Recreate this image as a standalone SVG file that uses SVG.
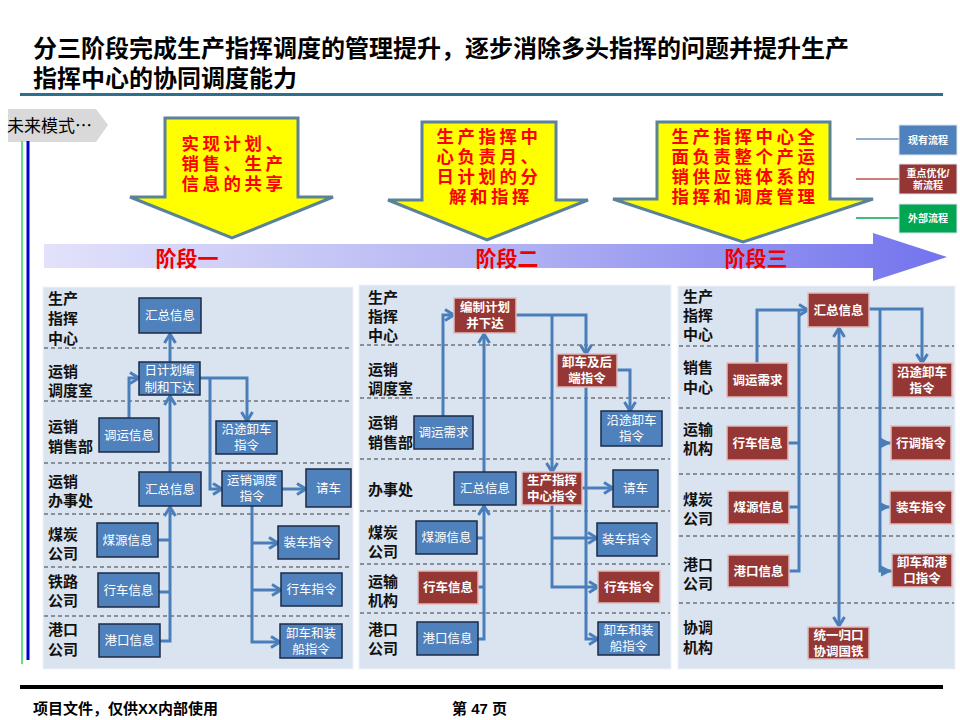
<svg xmlns="http://www.w3.org/2000/svg" width="960" height="720" viewBox="0 0 960 720">
<style>
text{font-family:'Liberation Sans','Noto Sans CJK SC',sans-serif;}
.title{font-size:24px;font-weight:700;fill:#000;}
.foot{font-size:15px;font-weight:700;fill:#000;}
.yt{font-size:17.4px;letter-spacing:3.6px;font-weight:700;fill:#ff0000;text-anchor:middle;}
.st{font-size:21px;font-weight:700;fill:#ee0000;text-anchor:middle;}
.row{font-size:15px;font-weight:700;fill:#111;}
.nb{fill:#4f81bd;stroke:#1b2a44;stroke-width:1.5;}
.nr{fill:#953735;stroke:#e6b9b8;stroke-width:1.5;}
.tb{font-size:12.5px;fill:#fff;text-anchor:middle;}
.tr{font-size:12.5px;fill:#fff;font-weight:700;text-anchor:middle;}
.lg{font-size:10px;fill:#fff;font-weight:700;text-anchor:middle;}
.panel{fill:#dae4f0;stroke:#eef2f8;stroke-width:1;}
.dash{stroke:#3a3a3a;stroke-width:1.2;stroke-dasharray:4,3;fill:none;}
.c{fill:none;stroke:#4a7ebb;stroke-width:3;}
.ca{fill:none;stroke:#4a7ebb;stroke-width:3;marker-end:url(#chev);}
.ct{fill:none;stroke:#4a7ebb;stroke-width:3;marker-end:url(#tri);}
.yarrow{fill:#ffff00;stroke:#5a8299;stroke-width:3;}
</style>
<defs>
<marker id="chev" markerUnits="userSpaceOnUse" markerWidth="14" markerHeight="14" viewBox="0 0 14 14" refX="12" refY="7" orient="auto-start-reverse">
<path d="M3,1.5 L12,7 L3,12.5" fill="none" stroke="#4a7ebb" stroke-width="3"/>
</marker>
<marker id="tri" markerUnits="userSpaceOnUse" markerWidth="14" markerHeight="14" viewBox="0 0 14 14" refX="12" refY="7" orient="auto">
<path d="M1,1.5 L12,7 L1,12.5 Z" fill="#4a7ebb"/>
</marker>
<linearGradient id="bigg" x1="44" y1="0" x2="947" y2="0" gradientUnits="userSpaceOnUse">
<stop offset="0" stop-color="#e2e2fb"/>
<stop offset="0.5" stop-color="#b4b4f3"/>
<stop offset="1" stop-color="#7373ee"/>
</linearGradient>
</defs>

<rect x="0" y="0" width="960" height="720" fill="#fff"/>

<!-- title -->
<g id="title">
<text class="title" x="33" y="57">分三阶段完成生产指挥调度的管理提升，逐步消除多头指挥的问题并提升生产</text>
<text class="title" x="33" y="87">指挥中心的协同调度能力</text>
<rect x="20" y="93" width="923" height="3" fill="#2e6e8e"/>
</g>

<!-- future mode tab -->
<g id="future">
<path d="M8,109 L96,109 L108,125 L96,142 L8,142 Z" fill="#d9d9d9"/>
<text x="7" y="132" font-size="17" fill="#000" style="font-family:'Noto Sans CJK SC',sans-serif">未来模式…</text>
<rect x="21" y="141" width="2" height="523" fill="#66dd88"/>
<rect x="26.5" y="141" width="3" height="519" fill="#0000cc"/>
</g>

<!-- yellow arrows -->
<g id="goal1">
<path class="yarrow" d="M165,118 L298,118 L298,197 L333,197 L232,238 L130,197 L165,197 Z"/>
<text class="yt" x="234" y="150">实现计划、</text>
<text class="yt" x="234" y="170">销售、生产</text>
<text class="yt" x="234" y="190">信息的共享</text>
</g>
<g id="goal2">
<path class="yarrow" d="M422,122 L556,122 L556,200 L588,200 L487,240 L388,200 L422,200 Z"/>
<text class="yt" x="489" y="143">生产指挥中</text>
<text class="yt" x="489" y="163">心负责月、</text>
<text class="yt" x="489" y="183">日计划的分</text>
<text class="yt" x="491" y="203">解和指挥</text>
</g>
<g id="goal3">
<path class="yarrow" d="M657,122 L830,122 L830,199 L873,199 L743,242 L613,199 L657,199 Z"/>
<text class="yt" x="745" y="143">生产指挥中心全</text>
<text class="yt" x="745" y="163">面负责整个产运</text>
<text class="yt" x="745" y="183">销供应链体系的</text>
<text class="yt" x="745" y="203">指挥和调度管理</text>
</g>

<!-- legend -->
<g id="legend">
<line x1="856" y1="139" x2="899" y2="139" stroke="#6f93b8" stroke-width="1.5"/>
<line x1="856" y1="179" x2="899" y2="179" stroke="#c0504d" stroke-width="1.5"/>
<line x1="856" y1="218" x2="899" y2="218" stroke="#00a651" stroke-width="1.5"/>
<rect x="899" y="125" width="58" height="30" fill="#4f81bd" stroke="#dbe5f1" stroke-width="1"/>
<text class="lg" x="928" y="144">现有流程</text>
<rect x="899" y="164" width="58" height="30" fill="#943634" stroke="#dbe5f1" stroke-width="1"/>
<text class="lg" x="928" y="177">重点优化/</text>
<text class="lg" x="928" y="189">新流程</text>
<rect x="899" y="204" width="58" height="29" fill="#00a651" stroke="#dbe5f1" stroke-width="1"/>
<text class="lg" x="928" y="222">外部流程</text>
</g>

<!-- stage arrow -->
<g id="stages">
<path d="M44,244 L873,244 L873,233 L947,257 L873,281 L873,268 L44,268 Z" fill="url(#bigg)"/>
<text class="st" x="187" y="266">阶段一</text>
<text class="st" x="507" y="266">阶段二</text>
<text class="st" x="756" y="266">阶段三</text>
</g>

<!-- panels -->
<g id="panel1">
<rect class="panel" x="43" y="287" width="310" height="382"/>
<line class="dash" x1="44" y1="348" x2="352" y2="348"/>
<line class="dash" x1="44" y1="401" x2="352" y2="401"/>
<line class="dash" x1="44" y1="463" x2="352" y2="463"/>
<line class="dash" x1="44" y1="514" x2="352" y2="514"/>
<line class="dash" x1="44" y1="567" x2="352" y2="567"/>
<line class="dash" x1="44" y1="616" x2="352" y2="616"/>
<text class="row" x="48" y="304">生产</text>
<text class="row" x="48" y="324">指挥</text>
<text class="row" x="48" y="344">中心</text>
<text class="row" x="48" y="377">运销</text>
<text class="row" x="48" y="396">调度室</text>
<text class="row" x="48" y="432">运销</text>
<text class="row" x="48" y="452">销售部</text>
<text class="row" x="48" y="487">运销</text>
<text class="row" x="48" y="506">办事处</text>
<text class="row" x="48" y="540">煤炭</text>
<text class="row" x="48" y="559">公司</text>
<text class="row" x="48" y="587">铁路</text>
<text class="row" x="48" y="606">公司</text>
<text class="row" x="48" y="635">港口</text>
<text class="row" x="48" y="655">公司</text>
</g>
<g id="panel2">
<rect class="panel" x="359" y="285" width="312" height="384"/>
<line class="dash" x1="360" y1="345" x2="670" y2="345"/>
<line class="dash" x1="360" y1="398" x2="670" y2="398"/>
<line class="dash" x1="360" y1="459" x2="670" y2="459"/>
<line class="dash" x1="360" y1="511" x2="670" y2="511"/>
<line class="dash" x1="360" y1="564" x2="670" y2="564"/>
<line class="dash" x1="360" y1="613" x2="670" y2="613"/>
<text class="row" x="368" y="303">生产</text>
<text class="row" x="368" y="322">指挥</text>
<text class="row" x="368" y="341">中心</text>
<text class="row" x="368" y="375">运销</text>
<text class="row" x="368" y="394">调度室</text>
<text class="row" x="368" y="428">运销</text>
<text class="row" x="368" y="448">销售部</text>
<text class="row" x="368" y="495">办事处</text>
<text class="row" x="368" y="538">煤炭</text>
<text class="row" x="368" y="557">公司</text>
<text class="row" x="368" y="587">运输</text>
<text class="row" x="368" y="606">机构</text>
<text class="row" x="368" y="635">港口</text>
<text class="row" x="368" y="654">公司</text>
</g>
<g id="panel3">
<rect class="panel" x="678" y="286" width="277" height="383"/>
<line class="dash" x1="679" y1="346" x2="954" y2="346"/>
<line class="dash" x1="679" y1="408" x2="954" y2="408"/>
<line class="dash" x1="679" y1="474" x2="954" y2="474"/>
<line class="dash" x1="679" y1="536" x2="954" y2="536"/>
<line class="dash" x1="679" y1="603" x2="954" y2="603"/>
<text class="row" x="683" y="302">生产</text>
<text class="row" x="683" y="321">指挥</text>
<text class="row" x="683" y="340">中心</text>
<text class="row" x="683" y="373">销售</text>
<text class="row" x="683" y="393">中心</text>
<text class="row" x="683" y="435">运输</text>
<text class="row" x="683" y="454">机构</text>
<text class="row" x="683" y="505">煤炭</text>
<text class="row" x="683" y="524">公司</text>
<text class="row" x="683" y="570">港口</text>
<text class="row" x="683" y="589">公司</text>
<text class="row" x="683" y="633">协调</text>
<text class="row" x="683" y="653">机构</text>
</g>

<!-- connectors -->
<g id="connectors">
<!-- stage 1 -->
<path class="ca" d="M170,362 L170,334"/>
<path class="ca" d="M129,418 L129,378 L139,378"/>
<path class="ca" d="M170,472 L170,396"/>
<path class="ca" d="M200,378 L247,378 L247,421"/>
<path class="ca" d="M210,378 L210,489 L222,489"/>
<path class="ca" d="M282,489 L306,489"/>
<path class="ca" d="M252,506 L252,642 L280,642"/>
<path class="ca" d="M252,543 L278,543"/>
<path class="ca" d="M252,590 L281,590"/>
<path class="c" d="M158,540 L170,540 M159,592 L170,592"/>
<path class="ca" d="M160,641 L170,641 L170,507"/>
<!-- stage 2 -->
<path class="ca" d="M443,416 L443,315 L454,315"/>
<path class="ca" d="M484,472 L484,334"/>
<path class="ca" d="M516,315 L586,315 L586,354"/>
<path class="ca" d="M552,315 L552,472"/>
<path class="ca" d="M617,370 L630,370 L630,411"/>
<path class="ca" d="M586,387 L586,639 L598,639"/>
<path class="ca" d="M552,505 L552,587 L598,587"/>
<path class="ca" d="M552,538 L597,538"/>
<path class="ca" d="M582,488 L613,488"/>
<path class="c" d="M477,538 L484,538 M478,587 L484,587"/>
<path class="ca" d="M478,639 L484,639 L484,506"/>
<!-- stage 3 -->
<path class="ca" d="M757,363 L757,310 L808,310"/>
<path class="c" d="M788,443 L799,443 M789,507 L799,507 M789,571 L799,571 L799,310"/>
<path class="ca" d="M839,328 L839,626" marker-start="url(#chev)"/>
<path class="ca" d="M869,309 L922,309 L922,363"/>
<path class="ct" d="M880,309 L880,571 L892,571"/>
<path class="ct" d="M880,443 L891,443"/>
<path class="ct" d="M880,507 L890,507"/>
</g>

<!-- stage 1 nodes -->
<g id="s1-huizong"><rect class="nb" x="139" y="298" width="62" height="35"/><text class="tb" x="170" y="320">汇总信息</text></g>
<g id="s1-rijihua"><rect class="nb" x="139" y="362" width="61" height="33"/><text class="tb" x="169.5" y="375">日计划编</text><text class="tb" x="169.5" y="391.5">制和下达</text></g>
<g id="s1-diaoyun"><rect class="nb" x="99" y="418" width="60" height="34"/><text class="tb" x="129" y="439.5">调运信息</text></g>
<g id="s1-yantu"><rect class="nb" x="216" y="421" width="61" height="33"/><text class="tb" x="246.5" y="434">沿途卸车</text><text class="tb" x="246.5" y="450">指令</text></g>
<g id="s1-huizong2"><rect class="nb" x="139" y="472" width="62" height="34"/><text class="tb" x="170" y="493.5">汇总信息</text></g>
<g id="s1-diaodu"><rect class="nb" x="222" y="471" width="60" height="35"/><text class="tb" x="252" y="485">运销调度</text><text class="tb" x="252" y="501">指令</text></g>
<g id="s1-qingche"><rect class="nb" x="306" y="469" width="45" height="38"/><text class="tb" x="328.5" y="492.5">请车</text></g>
<g id="s1-meiyuan"><rect class="nb" x="97" y="523" width="61" height="34"/><text class="tb" x="127.5" y="544.5">煤源信息</text></g>
<g id="s1-zhuangche"><rect class="nb" x="278" y="526" width="61" height="33"/><text class="tb" x="308.5" y="547">装车指令</text></g>
<g id="s1-xingche"><rect class="nb" x="98" y="573" width="61" height="34"/><text class="tb" x="128.5" y="594.5">行车信息</text></g>
<g id="s1-xingchezl"><rect class="nb" x="281" y="573" width="61" height="33"/><text class="tb" x="311.5" y="594">行车指令</text></g>
<g id="s1-gangkou"><rect class="nb" x="99" y="624" width="61" height="33"/><text class="tb" x="129.5" y="645">港口信息</text></g>
<g id="s1-xiechezhuang"><rect class="nb" x="280" y="624" width="62" height="34"/><text class="tb" x="311" y="637.5">卸车和装</text><text class="tb" x="311" y="653.5">船指令</text></g>

<!-- stage 2 nodes -->
<g id="s2-bianzhi"><rect class="nr" x="454" y="298" width="62" height="35"/><text class="tr" x="485" y="312">编制计划</text><text class="tr" x="485" y="328">并下达</text></g>
<g id="s2-xieche"><rect class="nr" x="557" y="354" width="60" height="33"/><text class="tr" x="587" y="367">卸车及后</text><text class="tr" x="587" y="383">端指令</text></g>
<g id="s2-yantu"><rect class="nb" x="601" y="411" width="61" height="35"/><text class="tb" x="631.5" y="425">沿途卸车</text><text class="tb" x="631.5" y="441">指令</text></g>
<g id="s2-diaoyun"><rect class="nb" x="414" y="416" width="59" height="33"/><text class="tb" x="443.5" y="437">调运需求</text></g>
<g id="s2-huizong"><rect class="nb" x="454" y="472" width="62" height="33"/><text class="tb" x="485" y="493">汇总信息</text></g>
<g id="s2-zhihui"><rect class="nr" x="522" y="472" width="60" height="33"/><text class="tr" x="552" y="485">生产指挥</text><text class="tr" x="552" y="501">中心指令</text></g>
<g id="s2-qingche"><rect class="nb" x="613" y="470" width="45" height="37"/><text class="tb" x="635.5" y="493">请车</text></g>
<g id="s2-meiyuan"><rect class="nb" x="416" y="521" width="61" height="33"/><text class="tb" x="446.5" y="542">煤源信息</text></g>
<g id="s2-zhuangche"><rect class="nb" x="597" y="523" width="60" height="33"/><text class="tb" x="627" y="544">装车指令</text></g>
<g id="s2-xingche"><rect class="nr" x="418" y="571" width="60" height="33"/><text class="tr" x="448" y="592">行车信息</text></g>
<g id="s2-xingchezl"><rect class="nr" x="598" y="571" width="62" height="32"/><text class="tr" x="629" y="591.5">行车指令</text></g>
<g id="s2-gangkou"><rect class="nb" x="417" y="622" width="61" height="33"/><text class="tb" x="447.5" y="643">港口信息</text></g>
<g id="s2-xiechezhuang"><rect class="nb" x="598" y="622" width="61" height="33"/><text class="tb" x="628.5" y="635">卸车和装</text><text class="tb" x="628.5" y="651">船指令</text></g>

<!-- stage 3 nodes -->
<g id="s3-huizong"><rect class="nr" x="808" y="293" width="61" height="34"/><text class="tr" x="838.5" y="314.5">汇总信息</text></g>
<g id="s3-diaoyun"><rect class="nr" x="727" y="363" width="61" height="34"/><text class="tr" x="757.5" y="384.5">调运需求</text></g>
<g id="s3-yantu"><rect class="nr" x="892" y="363" width="60" height="34"/><text class="tr" x="922" y="376.5">沿途卸车</text><text class="tr" x="922" y="392.5">指令</text></g>
<g id="s3-xingche"><rect class="nr" x="727" y="426" width="61" height="34"/><text class="tr" x="757.5" y="447.5">行车信息</text></g>
<g id="s3-xingdiao"><rect class="nr" x="891" y="426" width="60" height="34"/><text class="tr" x="921" y="447.5">行调指令</text></g>
<g id="s3-meiyuan"><rect class="nr" x="728" y="491" width="61" height="33"/><text class="tr" x="758.5" y="512">煤源信息</text></g>
<g id="s3-zhuangche"><rect class="nr" x="890" y="491" width="62" height="33"/><text class="tr" x="921" y="512">装车指令</text></g>
<g id="s3-gangkou"><rect class="nr" x="728" y="555" width="61" height="32"/><text class="tr" x="758.5" y="575.5">港口信息</text></g>
<g id="s3-xiechegang"><rect class="nr" x="892" y="554" width="60" height="33"/><text class="tr" x="922" y="567">卸车和港</text><text class="tr" x="922" y="583">口指令</text></g>
<g id="s3-tongyi"><rect class="nr" x="808" y="627" width="61" height="32"/><text class="tr" x="838.5" y="639.5">统一归口</text><text class="tr" x="838.5" y="655.5">协调国铁</text></g>

<!-- footer -->
<g id="footer">
<rect x="20" y="685" width="923" height="4" fill="#000"/>
<text class="foot" x="33" y="714">项目文件，仅供XX内部使用</text>
<text class="foot" x="452" y="714">第 47 页</text>
</g>
</svg>
